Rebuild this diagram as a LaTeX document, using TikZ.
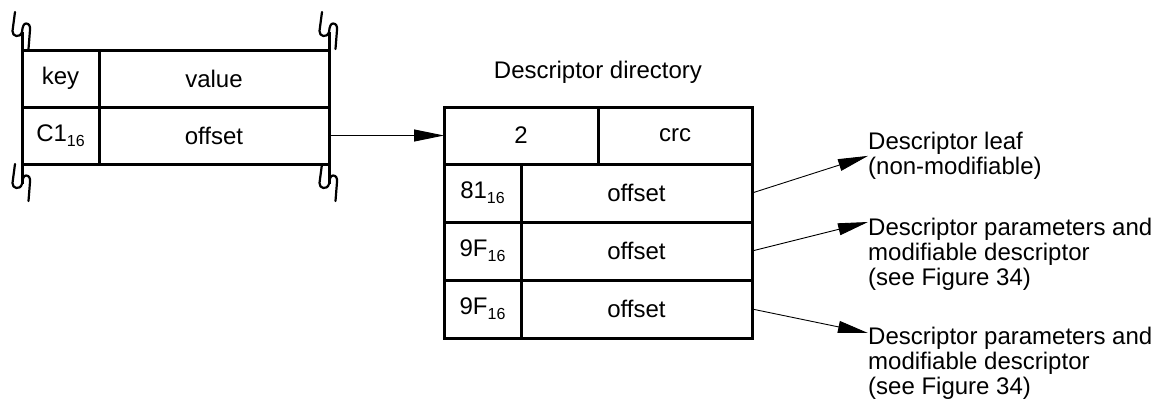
\documentclass[tikz,border=0pt]{standalone}
\usepackage{fontspec}
\setmainfont{Liberation Sans}
\usetikzlibrary{arrows.meta}
\newcommand\hexsub[2]{#1\raisebox{-5pt}{\fontsize{16}{16}\selectfont #2}}
\begin{document}
\begin{tikzpicture}[x=1pt,y=-1pt,
  txt/.style={font=\fontsize{24}{25}\selectfont},
  cell/.style={txt,draw,line width=3pt,outer sep=0pt,inner sep=0pt,
    minimum height=57pt},
  stem/.style={line width=3pt},
  brkline/.style={line width=2.2pt,line cap=round,line join=round},
  link/.style={line width=0.9pt,-{Triangle[length=30pt,width=12pt]}},
  label/.style={txt,align=left,inner sep=0pt,anchor=north west},
  brk/.pic={\draw[brkline] (-7,-13) -- (-9.5,6)
      .. controls (-10,11.5) and (-2,13.5) .. (0,7)
      .. controls (0.5,1) and (2,-1.5) .. (4,-1.5)
      .. controls (7,-1.5) and (8.5,1) .. (8,5) -- (6.5,24);}]
\useasboundingbox (0,0) rectangle (1154,407);

% directory entry in the referring unit
\node[cell,minimum width=77pt]  (key)   at (60.5,78.5)  {key};
\node[cell,minimum width=230pt] (value) at (214,78.5)   {value};
\node[cell,minimum width=77pt]  (c1)    at (60.5,135.5) {\hexsub{C1}{16}};
\node[cell,minimum width=230pt] (off)   at (214,135.5)  {offset};

% break marks on the truncated edges
\draw[stem] (key.north west) -- +(0,-18);
\draw[stem] (value.north east) -- +(0,-18);
\draw[stem] (c1.south west) -- +(0,20);
\draw[stem] (off.south east) -- +(0,20);
\pic at (22,25) {brk};
\pic at (329,25) {brk};
\pic at (22,177) {brk};
\pic at (329,177) {brk};

% descriptor directory
\node[txt] (title) at (598,72) {Descriptor directory};
\node[cell,minimum width=154pt] (len) at (521,135.5) {2};
\node[cell,minimum width=154pt] (crc) at (675,135.5) {crc};
\node[cell,minimum width=77pt,minimum height=58pt]  (k1) at (482.5,193) {\hexsub{81}{16}};
\node[cell,minimum width=231pt,minimum height=58pt] (o1) at (636.5,193) {offset};
\node[cell,minimum width=77pt,minimum height=58pt]  (k2) at (482.5,251) {\hexsub{9F}{16}};
\node[cell,minimum width=231pt,minimum height=58pt] (o2) at (636.5,251) {offset};
\node[cell,minimum width=77pt,minimum height=58pt]  (k3) at (482.5,309) {\hexsub{9F}{16}};
\node[cell,minimum width=231pt,minimum height=58pt] (o3) at (636.5,309) {offset};

% targets
\node[label] (leaf)  at (868,132) {Descriptor leaf\\(non-modifiable)};
\node[label] (mod1)  at (868,218) {Descriptor parameters and\\modifiable descriptor\\(see Figure 34)};
\node[label] (mod2)  at (868,327) {Descriptor parameters and\\modifiable descriptor\\(see Figure 34)};

% links
\draw[link] (off.east) -- (len.west);
\draw[link] (o1.east) -- (leaf.west);
\draw[link] (o2.east) -- ([yshift=-4pt]mod1.north west);
\draw[link] (o3.east) -- ([yshift=-6pt]mod2.north west);
\end{tikzpicture}
\end{document}
